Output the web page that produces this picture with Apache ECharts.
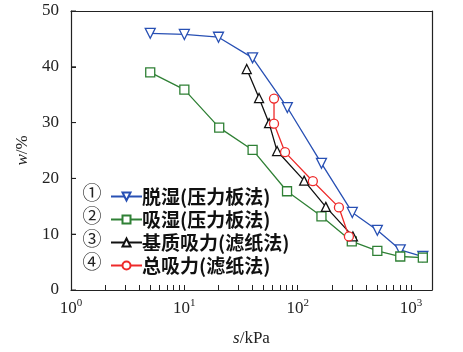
<!DOCTYPE html>
<html><head><meta charset="utf-8">
<script src="https://cdn.jsdelivr.net/npm/echarts@6/dist/echarts.min.js"></script>
<style>html,body{margin:0;padding:0;background:#fff}#c{width:463px;height:352px}</style>
</head><body><div id="c"></div>
<script>
// Data (s in kPa, w in %)
const names = ['脱湿(压力板法)', '吸湿(压力板法)', '基质吸力(滤纸法)', '总吸力(滤纸法)'];
const s1 = [5, 10, 20, 40, 81, 162, 303, 504, 803, 1270];
const w1 = [46.0, 45.8, 45.3, 41.6, 32.7, 22.7, 13.9, 10.7, 7.2, 6.0];
const s2 = [5, 10, 20.3, 40, 80.5, 162, 300, 504, 803, 1270];
const w2 = [39.0, 35.9, 29.1, 25.1, 17.7, 13.2, 8.7, 7.0, 6.0, 5.8];
const s3 = [35.5, 45.6, 55.9, 65.8, 114, 177, 307];
const w3 = [39.6, 34.4, 29.9, 24.9, 19.6, 14.9, 9.6];
const s4 = [61.8, 61.8, 77.3, 136, 231, 283];
const w4 = [34.3, 29.8, 24.7, 19.5, 14.8, 9.6];
const xTickLabels = ['10{s|0}', '10{s|1}', '10{s|2}', '10{s|3}'];
const yTicks = [0, 10, 20, 30, 40, 50];
const xMaxS = 1530;

const lg = v => Math.log10(v);
const pts = (s, w) => s.map((v, i) => [lg(v), w[i]]);
const minor = [];
for (let d = 0; d <= 3; d++) for (let m = 1; m <= 9; m++) { const v = m * Math.pow(10, d); if (v <= xMaxS) minor.push(lg(v)); }

const colors = ['#2850b4', '#2f8035', '#111111', '#ee2a2a'];
const symbols = ['triangle', 'rect', 'triangle', 'circle'];
const rot = [180, 0, 0, 0];
const sizes = [10, 9, 9, 9];
const datas = [pts(s1, w1), pts(s2, w2), pts(s3, w3), pts(s4, w4)];

const series = datas.map((d, i) => ({
  name: names[i], type: 'line', data: d,
  symbol: symbols[i], symbolSize: sizes[i], symbolRotate: rot[i],
  lineStyle: { color: colors[i], width: 1.3 },
  itemStyle: { color: '#fff', borderColor: colors[i], borderWidth: 1.3 },
  z: 2 + i
}));

// inward y-axis ticks drawn through the axis scale
series.push({
  type: 'custom', silent: true, z: 10,
  data: yTicks.map(v => [0, v]),
  renderItem: (params, api) => {
    const p = api.coord([0, api.value(1)]);
    return { type: 'line', shape: { x1: p[0], y1: p[1], x2: p[0] + 5, y2: p[1] }, style: { stroke: '#222', lineWidth: 1 } };
  }
});

const frameAxis = { show: true, axisLine: { show: true, onZero: false, lineStyle: { color: '#222', width: 1.2 } }, axisTick: { show: false }, axisLabel: { show: false }, splitLine: { show: false } };

const chart = echarts.init(document.getElementById('c'));
chart.setOption({
  animation: false,
  grid: { left: 71, right: 31, top: 11, bottom: 54 },
  xAxis: [{
    type: 'value', min: 0, max: lg(xMaxS),
    name: '{i|s}/kPa', nameLocation: 'middle', nameGap: 40,
    nameTextStyle: { fontFamily: 'Liberation Serif', fontSize: 17, color: '#222', rich: { i: { fontFamily: 'Liberation Serif', fontStyle: 'italic', fontSize: 17, color: '#222' } } },
    axisLine: { show: true, onZero: false, lineStyle: { color: '#222', width: 1.2 } },
    axisTick: { show: true, inside: true, length: 5, customValues: minor, lineStyle: { color: '#222', width: 1 } },
    splitLine: { show: false },
    axisLabel: {
      customValues: [0, 1, 2, 3], margin: 8,
      formatter: v => xTickLabels[Math.round(v)],
      fontFamily: 'Liberation Serif', fontSize: 17, color: '#222',
      rich: { s: { fontFamily: 'Liberation Serif', fontSize: 11, verticalAlign: 'top', padding: [0, 0, 10, 0], color: '#222' } }
    }
  }, Object.assign({ type: 'value', position: 'top', min: 0, max: lg(xMaxS) }, frameAxis)],
  yAxis: [{
    type: 'value', min: 0, max: 50, interval: 10,
    name: '{i|w}/%', nameLocation: 'middle', nameGap: 22,
    nameTextStyle: { fontFamily: 'Liberation Serif', fontSize: 17, color: '#222', rich: { i: { fontFamily: 'Liberation Serif', fontStyle: 'italic', fontSize: 17, color: '#222' } } },
    axisLine: { show: true, onZero: false, lineStyle: { color: '#222', width: 1.2 } },
    axisTick: { show: true, inside: true, length: 5, customValues: yTicks, lineStyle: { color: '#222', width: 1 } },
    splitLine: { show: false },
    axisLabel: { customValues: yTicks, fontFamily: 'Liberation Serif', fontSize: 17, color: '#222', margin: 12 }
  }, Object.assign({ type: 'value', position: 'right', min: 0, max: 50 }, frameAxis)],
  legend: {
    orient: 'vertical', left: 105, top: 182, itemWidth: 31, itemHeight: 10, itemGap: 4,
    textStyle: { fontFamily: 'Noto Sans CJK SC', fontWeight: 'bold', fontSize: 19, color: '#111', padding: [0, 0, 0, -5] },
    data: names
  },
  graphic: ['①', '②', '③', '④'].map((t, i) => ({
    type: 'text', x: 92, y: 193 + i * 23, z: 100,
    style: { text: t, fontFamily: 'Noto Sans CJK SC', fontSize: 19, fill: '#222', align: 'center', verticalAlign: 'middle' }
  })),
  series: series
});
</script></body></html>
